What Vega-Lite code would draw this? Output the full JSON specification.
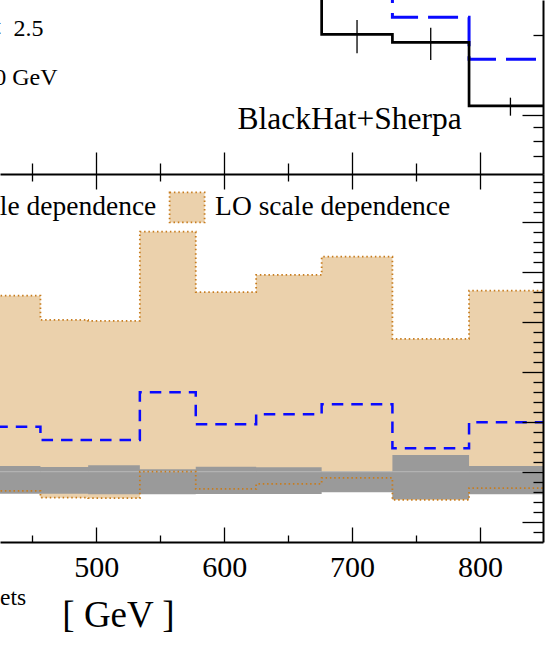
{
  "$schema": "https://vega.github.io/schema/vega-lite/v6.json",
  "width": 543,
  "height": 542,
  "autosize": {"type": "none"},
  "padding": {"left": 0, "top": 0, "right": 5, "bottom": 105},
  "background": "white",
  "config": {
    "view": {"stroke": null},
    "font": "Liberation Serif",
    "axis": {"grid": false, "domainColor": "black", "tickColor": "black", "labelColor": "black", "titleColor": "black", "zindex": 1}
  },
  "datasets": {
    "bins": [
      {"x0": 421.9, "x1": 456.4, "xc": 439.15, "lo_up": 1.704, "lo_dn": 0.923, "lo_c": 1.180, "nlo_up": 1.023, "nlo_dn": 0.912, "nlo_c": 1, "top_nlo": 0.0105, "top_lo": 0.0140, "top_err_lo": 0.0094, "top_err_hi": 0.0116},
      {"x0": 456.4, "x1": 493.7, "xc": 475.05, "lo_up": 1.607, "lo_dn": 0.896, "lo_c": 1.127, "nlo_up": 1.019, "nlo_dn": 0.912, "nlo_c": 1, "top_nlo": 0.0082, "top_lo": 0.0110, "top_err_lo": 0.0073, "top_err_hi": 0.0091},
      {"x0": 493.7, "x1": 534.1, "xc": 513.9, "lo_up": 1.603, "lo_dn": 0.894, "lo_c": 1.127, "nlo_up": 1.026, "nlo_dn": 0.910, "nlo_c": 1, "top_nlo": 0.0066, "top_lo": 0.0088, "top_err_lo": 0.0058, "top_err_hi": 0.0074},
      {"x0": 534.1, "x1": 577.8, "xc": 555.95, "lo_up": 1.960, "lo_dn": 1.000, "lo_c": 1.318, "nlo_up": 1.010, "nlo_dn": 0.910, "nlo_c": 1, "top_nlo": 0.0052, "top_lo": 0.0074, "top_err_lo": 0.0045, "top_err_hi": 0.0059},
      {"x0": 577.8, "x1": 625.0, "xc": 601.4, "lo_up": 1.718, "lo_dn": 0.931, "lo_c": 1.190, "nlo_up": 1.020, "nlo_dn": 0.911, "nlo_c": 1, "top_nlo": 0.0041, "top_lo": 0.0056, "top_err_lo": 0.0035, "top_err_hi": 0.0047},
      {"x0": 625.0, "x1": 676.2, "xc": 650.6, "lo_up": 1.787, "lo_dn": 0.951, "lo_c": 1.230, "nlo_up": 1.018, "nlo_dn": 0.911, "nlo_c": 1, "top_nlo": 0.0031, "top_lo": 0.0043, "top_err_lo": 0.0028, "top_err_hi": 0.0035},
      {"x0": 676.2, "x1": 731.5, "xc": 703.85, "lo_up": 1.860, "lo_dn": 0.975, "lo_c": 1.270, "nlo_up": 1.000, "nlo_dn": 0.918, "nlo_c": 1, "top_nlo": 0.002005, "top_lo": 0.0033, "top_err_lo": 0.001702, "top_err_hi": 0.002269},
      {"x0": 731.5, "x1": 791.4, "xc": 761.45, "lo_up": 1.531, "lo_dn": 0.887, "lo_c": 1.094, "nlo_up": 1.067, "nlo_dn": 0.890, "nlo_c": 1, "top_nlo": 0.001872, "top_lo": 0.002323, "top_err_lo": 0.001607, "top_err_hi": 0.002123},
      {"x0": 791.4, "x1": 856.1, "xc": 823.75, "lo_up": 1.724, "lo_dn": 0.934, "lo_c": 1.198, "nlo_up": 1.023, "nlo_dn": 0.910, "nlo_c": 1, "top_nlo": 0.001081, "top_lo": 0.001616, "top_err_lo": 0.000994, "top_err_hi": 0.001161}
    ]
  },
  "data": {"name": "bins"},
  "resolve": {"scale": {"y": "independent"}, "axis": {"x": "independent", "y": "independent"}},
  "layer": [
    {
      "resolve": {"axis": {"x": "independent", "y": "independent"}},
      "layer": [
        {
          "transform": [{"fold": ["x0", "x1"], "as": ["edge", "xe"]}],
          "mark": {"type": "area", "clip": true, "interpolate": "linear"},
          "encoding": {
            "x": {"field": "xe", "type": "quantitative",
              "scale": {"domain": [424.8, 849.2], "nice": false, "zero": false},
              "axis": {
                "orient": "bottom", "values": [450, 500, 550, 600, 650, 700, 750, 800],
                "domain": true, "domainWidth": 2, "domainColor": "black",
                "tickWidth": 1.3, "tickColor": "black",
                "tickSize": {"condition": {"test": "datum.value % 100 === 0", "value": -15}, "value": -7},
                "labelExpr": "datum.value % 100 === 0 ? datum.label : ''",
                "labelFont": "Liberation Serif", "labelFontSize": 30, "labelColor": "black",
                "labelPadding": 25, "labelOverlap": false, "labelFlush": false,
                "title": "[ GeV ]", "titleFont": "Liberation Serif", "titleFontSize": 37, "titleFontWeight": "normal",
                "titleColor": "black", "titleX": 118, "titleY": 84.5, "titleAlign": "center", "titleBaseline": "alphabetic",
                "grid": false, "zindex": 1
              }
            },
            "y": {"field": "lo_dn", "type": "quantitative",
              "scale": {"domain": [0.7188, 2.1908], "range": [542, 174], "nice": false, "zero": false},
              "axis": {
                "orient": "right",
                "values": [0.76, 0.8, 0.84, 0.88, 0.92, 0.96, 1.0, 1.04, 1.08, 1.12, 1.16, 1.2, 1.24, 1.28, 1.32, 1.36, 1.4, 1.44, 1.48, 1.52, 1.56, 1.6, 1.64, 1.68, 1.72, 1.76, 1.8, 1.84, 1.88, 1.92, 1.96, 2.0, 2.04, 2.08, 2.12, 2.16],
                "domain": true, "domainWidth": 2, "domainColor": "black",
                "tickWidth": 1.3, "tickColor": "black",
                "tickSize": {"condition": {"test": "abs(datum.value * 5 - round(datum.value * 5)) < 0.000001", "value": -21}, "value": -10},
                "labels": false, "title": null, "grid": false, "zindex": 1
              }
            },
            "y2": {"field": "lo_up"},
            "order": [{"field": "xe", "type": "quantitative"}, {"field": "edge", "type": "nominal", "sort": "descending"}],
            "fill": {"datum": "LO scale dependence", "type": "nominal",
              "scale": {"domain": ["NLO scale dependence", "LO scale dependence"], "range": ["#9a9a9a", "#ebd1ac"]},
              "legend": {
                "orient": "none", "legendX": -145.2, "legendY": 188.5, "direction": "horizontal",
                "title": null, "padding": 0,
                "symbolType": "M-1,-0.857H1V0.857H-1Z", "symbolSize": 1225,
                "symbolStrokeColor": "#c77c1e", "symbolStrokeWidth": 1.8, "symbolDash": [1.5, 2.8], "symbolOpacity": 1,
                "labelFont": "Liberation Serif", "labelFontSize": 27.5, "labelColor": "black",
                "labelOffset": 9.5, "columnPadding": 8.8, "labelLimit": 500
              }
            }
          }
        },
        {
          "transform": [{"fold": ["x0", "x1"], "as": ["edge", "xe"]}],
          "mark": {"type": "area", "clip": true, "interpolate": "linear"},
          "encoding": {
            "x": {"field": "xe", "type": "quantitative",
              "axis": {
                "orient": "top", "offset": -174, "values": [450, 500, 550, 600, 650, 700, 750, 800],
                "domain": false, "tickWidth": 1.3, "tickColor": "black",
                "tickSize": {"condition": {"test": "datum.value % 100 === 0", "value": -15}, "value": -7},
                "labels": false, "title": null, "grid": false, "zindex": 1
              }
            },
            "y": {"field": "nlo_dn", "type": "quantitative", "axis": null},
            "y2": {"field": "nlo_up"},
            "order": [{"field": "xe", "type": "quantitative"}, {"field": "edge", "type": "nominal", "sort": "descending"}],
            "fill": {"datum": "NLO scale dependence", "type": "nominal"}
          }
        },
        {
          "mark": {"type": "rule", "clip": true, "color": "#b8b8b8", "strokeWidth": 1},
          "encoding": {
            "x": {"field": "x0", "type": "quantitative", "axis": null},
            "x2": {"field": "x1"},
            "y": {"field": "nlo_c", "type": "quantitative", "axis": null}
          }
        },
        {
          "transform": [{"fold": ["x0", "x1"], "as": ["edge", "xe"]}],
          "mark": {"type": "line", "clip": true, "color": "#c77c1e", "strokeWidth": 1.8, "strokeDash": [1.5, 2.8]},
          "encoding": {
            "x": {"field": "xe", "type": "quantitative", "axis": null},
            "y": {"field": "lo_up", "type": "quantitative", "axis": null},
            "order": [{"field": "xe", "type": "quantitative"}, {"field": "edge", "type": "nominal", "sort": "descending"}]
          }
        },
        {
          "transform": [{"fold": ["x0", "x1"], "as": ["edge", "xe"]}],
          "mark": {"type": "line", "clip": true, "color": "#c77c1e", "strokeWidth": 1.8, "strokeDash": [1.5, 2.8]},
          "encoding": {
            "x": {"field": "xe", "type": "quantitative", "axis": null},
            "y": {"field": "lo_dn", "type": "quantitative", "axis": null},
            "order": [{"field": "xe", "type": "quantitative"}, {"field": "edge", "type": "nominal", "sort": "descending"}]
          }
        },
        {
          "transform": [{"fold": ["x0", "x1"], "as": ["edge", "xe"]}],
          "mark": {"type": "line", "clip": true, "color": "#0a0aff", "strokeWidth": 2.5, "strokeDash": [11.5, 8]},
          "encoding": {
            "x": {"field": "xe", "type": "quantitative", "axis": null},
            "y": {"field": "lo_c", "type": "quantitative", "axis": null},
            "order": [{"field": "xe", "type": "quantitative"}, {"field": "edge", "type": "nominal", "sort": "descending"}]
          }
        }
      ]
    },
    {
      "resolve": {"axis": {"x": "independent", "y": "independent"}},
      "layer": [
        {
          "transform": [{"fold": ["x0", "x1"], "as": ["edge", "xe"]}],
          "mark": {"type": "line", "clip": true, "color": "#0a0aff", "strokeWidth": 3, "strokeDash": [30, 10]},
          "encoding": {
            "x": {"field": "xe", "type": "quantitative", "axis": null},
            "y": {"field": "top_lo", "type": "quantitative",
              "scale": {"type": "log", "domain": [0.000601, 0.002696], "range": [174, 0], "nice": false},
              "axis": {
                "orient": "right", "values": [0.0007, 0.0008, 0.0009, 0.001, 0.002],
                "domain": true, "domainWidth": 2, "domainColor": "black",
                "tickWidth": 1.3, "tickColor": "black",
                "tickSize": {"condition": {"test": "abs(datum.value - 0.001) < 0.0000001", "value": -21}, "value": -10},
                "labels": false, "title": null, "grid": false, "zindex": 1
              }
            },
            "order": [{"field": "xe", "type": "quantitative"}, {"field": "edge", "type": "nominal", "sort": "descending"}]
          }
        },
        {
          "transform": [{"fold": ["x0", "x1"], "as": ["edge", "xe"]}],
          "mark": {"type": "line", "clip": true, "color": "black", "strokeWidth": 2.7},
          "encoding": {
            "x": {"field": "xe", "type": "quantitative",
              "axis": {
                "orient": "top", "offset": -174, "values": [450, 500, 550, 600, 650, 700, 750, 800],
                "domain": true, "domainWidth": 2, "domainColor": "black",
                "tickWidth": 1.3, "tickColor": "black",
                "tickSize": {"condition": {"test": "datum.value % 100 === 0", "value": 22}, "value": 11},
                "labels": false,
                "title": "jets", "titleFont": "Liberation Serif", "titleFontSize": 23.5, "titleFontWeight": "normal",
                "titleColor": "black", "titleX": 25.6, "titleY": 430, "titleAlign": "right", "titleBaseline": "alphabetic",
                "grid": false, "zindex": 1
              }
            },
            "y": {"field": "top_nlo", "type": "quantitative", "axis": null},
            "order": [{"field": "xe", "type": "quantitative"}, {"field": "edge", "type": "nominal", "sort": "descending"}]
          }
        },
        {
          "mark": {"type": "rule", "clip": true, "color": "black", "strokeWidth": 1.3},
          "encoding": {
            "x": {"field": "xc", "type": "quantitative", "axis": null},
            "y": {"field": "top_err_lo", "type": "quantitative", "axis": null},
            "y2": {"field": "top_err_hi"}
          }
        },
        {
          "data": {"values": [{}]},
          "mark": {"type": "text", "clip": true, "align": "right", "baseline": "alphabetic", "font": "Liberation Serif", "fontSize": 24, "color": "black"},
          "encoding": {
            "x": {"datum": 458.9, "type": "quantitative", "axis": null},
            "y": {"datum": 0.001968, "type": "quantitative", "axis": null},
            "text": {"value": "|η| <\u20022.5"}
          }
        },
        {
          "data": {"values": [{}]},
          "mark": {"type": "text", "clip": true, "align": "right", "baseline": "alphabetic", "font": "Liberation Serif", "fontSize": 24, "color": "black"},
          "encoding": {
            "x": {"datum": 469.8, "type": "quantitative", "axis": null},
            "y": {"datum": 0.00129, "type": "quantitative", "axis": null},
            "text": {"value": "ET > 30 GeV"}
          }
        },
        {
          "data": {"values": [{}]},
          "mark": {"type": "text", "clip": true, "align": "left", "baseline": "alphabetic", "font": "Liberation Serif", "fontSize": 31.5, "color": "black"},
          "encoding": {
            "x": {"datum": 610.5, "type": "quantitative", "axis": null},
            "y": {"datum": 0.000884, "type": "quantitative", "axis": null},
            "text": {"value": "BlackHat+Sherpa"}
          }
        }
      ]
    }
  ]
}
